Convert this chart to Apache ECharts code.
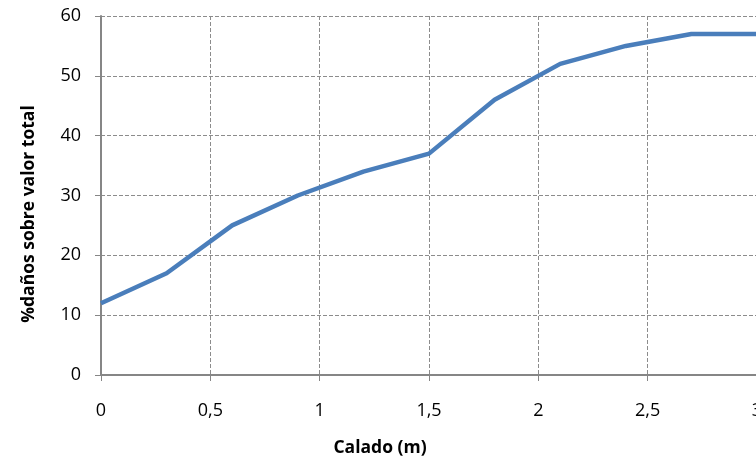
<!DOCTYPE html>
<html>
<head>
<meta charset="utf-8">
<script src="https://cdn.jsdelivr.net/npm/echarts@6/dist/echarts.min.js"></script>
<style>
  html, body { margin: 0; padding: 0; background: #fff; }
  #main { width: 756px; height: 458px; }
</style>
</head>
<body>
<div id="main"></div>
<script>
// calado (m) y % de daños
var calado = [0, 0.3, 0.6, 0.9, 1.2, 1.5, 1.8, 2.1, 2.4, 2.7, 3.0];
var danos = [12, 17, 25, 30, 34, 37, 46, 52, 55, 57, 57];

var chart = echarts.init(document.getElementById('main'));
var fuente = '"Open Sans", sans-serif';

var option = {
  animation: false,
  grid: {
    left: 101,
    top: 16,
    width: 656,
    height: 359,
    outerBoundsMode: 'none',
    containLabel: false
  },
  // titulos de ejes (el grafico original esta recortado, no van centrados)
  graphic: [
    {
      type: 'text',
      x: 380,
      y: 448,
      style: {
        text: 'Calado (m)',
        align: 'center',
        verticalAlign: 'middle',
        font: 'bold 17.5px ' + fuente,
        fill: '#000'
      }
    },
    {
      type: 'text',
      x: 29,
      y: 214,
      rotation: Math.PI / 2,
      style: {
        text: '%daños sobre valor total',
        align: 'center',
        verticalAlign: 'middle',
        font: 'bold 17.5px ' + fuente,
        fill: '#000'
      }
    }
  ],
  xAxis: {
    type: 'value',
    min: 0,
    max: 3,
    interval: 0.5,
    axisLine: { lineStyle: { color: '#868686', width: 2 } },
    axisTick: { show: true, length: 6, lineStyle: { color: '#868686', width: 1 } },
    axisLabel: {
      margin: 27,
      fontFamily: fuente,
      fontSize: 18,
      color: '#000',
      showMaxLabel: true,
      formatter: function (v) { return String(v).replace('.', ','); }
    },
    splitLine: { show: true, lineStyle: { color: '#8c8c8c', type: [4, 2], width: 1 } }
  },
  yAxis: {
    type: 'value',
    min: 0,
    max: 60,
    interval: 10,
    axisLine: { show: true, lineStyle: { color: '#868686', width: 2 } },
    axisTick: { show: true, length: 6, lineStyle: { color: '#868686', width: 1 } },
    axisLabel: { margin: 20, fontFamily: fuente, fontSize: 18, color: '#000' },
    splitLine: { show: true, lineStyle: { color: '#8c8c8c', type: [4, 2], width: 1 } }
  },
  series: [{
    type: 'line',
    data: calado.map(function (c, i) { return [c, danos[i]]; }),
    symbol: 'none',
    lineStyle: { color: '#4a7ebb', width: 4.5 },
    clip: false
  }]
};
chart.setOption(option);
</script>
</body>
</html>
